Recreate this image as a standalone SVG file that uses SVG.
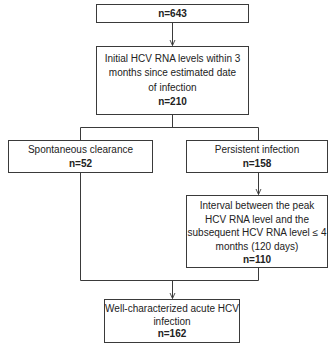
<svg xmlns="http://www.w3.org/2000/svg" width="329" height="346" viewBox="0 0 329 346">
<style>
.box{fill:#fff;stroke:#3a3a3a;stroke-width:1}
.ln{fill:none;stroke:#3a3a3a;stroke-width:1}
text{font-family:"Liberation Sans",Arial,sans-serif;font-size:10px;fill:#222;text-anchor:middle}
.b{font-weight:bold}
</style>
<defs>
<marker id="ah" viewBox="0 0 10 10" refX="10" refY="5" markerWidth="6" markerHeight="7" markerUnits="userSpaceOnUse" orient="auto">
<path d="M0,0.5 L10,5 L0,9.5" fill="none" stroke="#3a3a3a" stroke-width="1.5"/>
</marker>
</defs>
<rect width="329" height="346" fill="#fff"/>
<g id="connectors">
<path class="ln" d="M172.5,22.5 V45.5" marker-end="url(#ah)"/>
<path class="ln" d="M172.5,114.5 V127.5 M80.5,140 V127.5 H258.5 V140"/>
<path class="ln" d="M258.5,172.5 V194.5" marker-end="url(#ah)"/>
<path class="ln" d="M80.5,172.5 V280.5 H258.5 V268"/>
<path class="ln" d="M172.5,280.5 V298.5" marker-end="url(#ah)"/>
</g>
<g id="n643">
<rect class="box" x="96.5" y="4.5" width="152" height="18"/>
<text x="172.5" y="16.8" class="b">n=643</text>
</g>
<g id="initial">
<rect class="box" x="96.5" y="46.5" width="152" height="68"/>
<text x="172.5" y="61.5">Initial HCV RNA levels within 3</text>
<text x="172.5" y="76">months since estimated date</text>
<text x="172.5" y="90.5">of infection</text>
<text x="172.5" y="105" class="b">n=210</text>
</g>
<g id="spontaneous">
<rect class="box" x="8.5" y="140.5" width="144" height="32"/>
<text x="80.5" y="153">Spontaneous clearance</text>
<text x="80.5" y="167" class="b">n=52</text>
</g>
<g id="persistent">
<rect class="box" x="186.5" y="140.5" width="141" height="32"/>
<text x="257" y="153">Persistent infection</text>
<text x="257" y="167" class="b">n=158</text>
</g>
<g id="interval">
<rect class="box" x="186.5" y="195.5" width="141" height="72"/>
<text x="257" y="209">Interval between the peak</text>
<text x="257" y="222.5">HCV RNA level and the</text>
<text x="257" y="236">subsequent HCV RNA level ≤ 4</text>
<text x="257" y="249.5">months (120 days)</text>
<text x="257" y="263" class="b">n=110</text>
</g>
<g id="final">
<rect class="box" x="104.5" y="299.5" width="135" height="43"/>
<text x="172" y="312">Well-characterized acute HCV</text>
<text x="172" y="324.5">infection</text>
<text x="172" y="337" class="b">n=162</text>
</g>
</svg>
